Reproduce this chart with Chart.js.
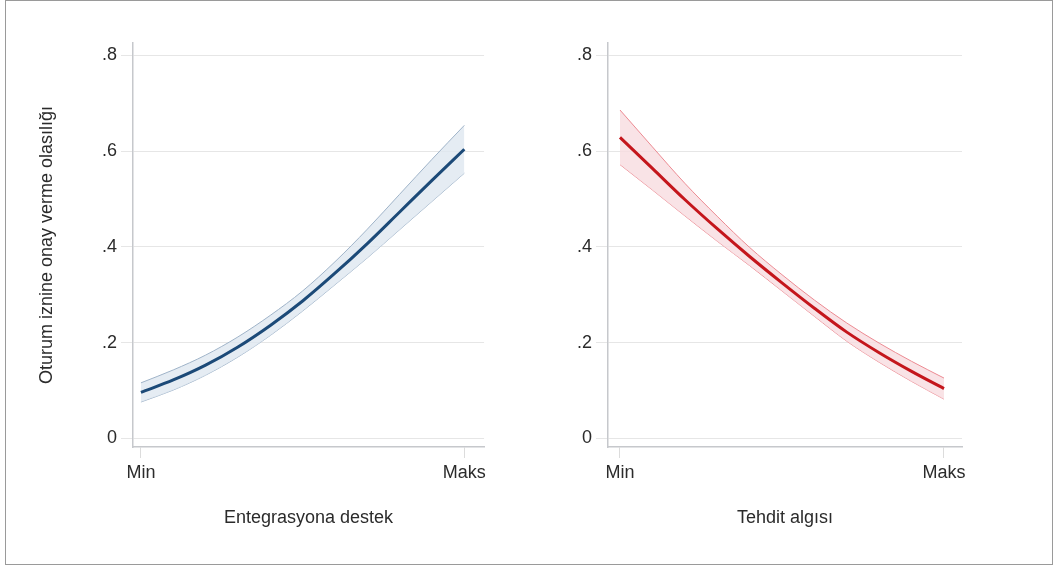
<!DOCTYPE html>
<html>
<head>
<meta charset="utf-8">
<script src="https://cdn.jsdelivr.net/npm/chart.js@4.4.1/dist/chart.umd.min.js"></script>
<style>
  html, body { margin: 0; padding: 0; background: #fff; }
  #frame { position: absolute; left: 5px; top: 0; width: 1048px; height: 565px; box-sizing: border-box; border: 1.5px solid #9a9a9a; }
  #c1 { position: absolute; left: 0; top: 0; }
  #c2 { position: absolute; left: 490px; top: 0; }
</style>
</head>
<body>
<div id="frame"></div>
<canvas id="c1" width="490" height="567" style="width:490px;height:567px"></canvas>
<canvas id="c2" width="569" height="567" style="width:569px;height:567px"></canvas>
<script>
// x positions, Min (0) to Maks (1)
const xLevels = [0, 0.1, 0.2, 0.3, 0.4, 0.5, 0.6, 0.7, 0.8, 0.9, 1];
const xTickValues = [0, 1];
const xTickLabels = ['Min', 'Maks'];
const yTickValues = [0, 0.2, 0.4, 0.6, 0.8];
const yTickLabels = ['0', '.2', '.4', '.6', '.8'];

// Entegrasyona destek
const supportMean  = [0.096, 0.122, 0.153, 0.191, 0.236, 0.287, 0.345, 0.407, 0.473, 0.539, 0.604];
const supportUpper = [0.116, 0.143, 0.174, 0.212, 0.257, 0.308, 0.369, 0.437, 0.510, 0.583, 0.654];
const supportLower = [0.076, 0.101, 0.132, 0.170, 0.215, 0.266, 0.321, 0.377, 0.436, 0.495, 0.554];

// Tehdit algısı
const threatMean  = [0.629, 0.564, 0.499, 0.438, 0.380, 0.325, 0.272, 0.222, 0.179, 0.140, 0.104];
const threatUpper = [0.686, 0.609, 0.533, 0.464, 0.399, 0.342, 0.289, 0.241, 0.199, 0.161, 0.126];
const threatLower = [0.572, 0.519, 0.465, 0.412, 0.361, 0.308, 0.255, 0.203, 0.159, 0.119, 0.082];

const yTitle = 'Oturum iznine onay verme olasılığı';

Chart.defaults.font.family = "'Liberation Sans', Arial, sans-serif";
Chart.defaults.font.size = 18;
Chart.defaults.color = '#2b2b2b';

const toPts = arr => arr.map((v, i) => ({ x: xLevels[i], y: v }));

function panel(id, o) {
  new Chart(document.getElementById(id), {
    type: 'line',
    data: {
      datasets: [
        { data: toPts(o.upper), borderColor: o.edge, borderWidth: 1, backgroundColor: o.fill, fill: '+1', pointRadius: 0, cubicInterpolationMode: 'monotone', order: 2 },
        { data: toPts(o.lower), borderColor: o.edge, borderWidth: 1, fill: false, pointRadius: 0, cubicInterpolationMode: 'monotone', order: 2 },
        { data: toPts(o.mean), borderColor: o.line, borderWidth: 3, fill: false, pointRadius: 0, cubicInterpolationMode: 'monotone', order: 1 }
      ]
    },
    options: {
      responsive: false,
      animation: false,
      layout: { padding: { left: 0, top: 43, right: o.padRight, bottom: 0 } },
      plugins: { legend: { display: false }, tooltip: { enabled: false } },
      scales: {
        x: {
          type: 'linear',
          min: o.xMin,
          max: o.xMax,
          afterBuildTicks: s => { s.ticks = xTickValues.map(v => ({ value: v })); },
          afterFit: s => { s.height = 120; },
          ticks: { callback: (v, i) => xTickLabels[i], maxRotation: 0, padding: 4 },
          grid: { drawOnChartArea: false, drawTicks: true, tickLength: 11, tickColor: '#dcdcdc' },
          border: { color: '#c6c8cc', width: 1.5 },
          title: { display: true, text: o.xTitle, padding: { top: 0, bottom: 38 } }
        },
        y: {
          min: -0.018,
          max: 0.826,
          afterBuildTicks: s => { s.ticks = yTickValues.map(v => ({ value: v })); },
          afterFit: s => { s.width = o.yWidth; },
          ticks: { callback: (v, i) => yTickLabels[i], padding: 4 },
          grid: { color: '#e6e6e6', lineWidth: 1, drawTicks: true, tickLength: 12, tickColor: '#e6e6e6' },
          border: { color: '#c6c8cc', width: 1.5 },
          title: { display: o.showYTitle, text: yTitle, padding: { top: 36, bottom: 0 } }
        }
      }
    }
  });
}

panel('c1', {
  upper: supportUpper, lower: supportLower, mean: supportMean,
  line: '#1c4a78', edge: '#9fb3c8', fill: 'rgba(222,231,240,0.8)',
  xMin: -0.0245, xMax: 1.061, yWidth: 133, padRight: 3,
  xTitle: 'Entegrasyona destek', showYTitle: true
});

panel('c2', {
  upper: threatUpper, lower: threatLower, mean: threatMean,
  line: '#c4161c', edge: '#ec8a92', fill: 'rgba(248,220,224,0.8)',
  xMin: -0.037, xMax: 1.0556, yWidth: 118, padRight: 97,
  xTitle: 'Tehdit algısı', showYTitle: false
});
</script>
</body>
</html>
